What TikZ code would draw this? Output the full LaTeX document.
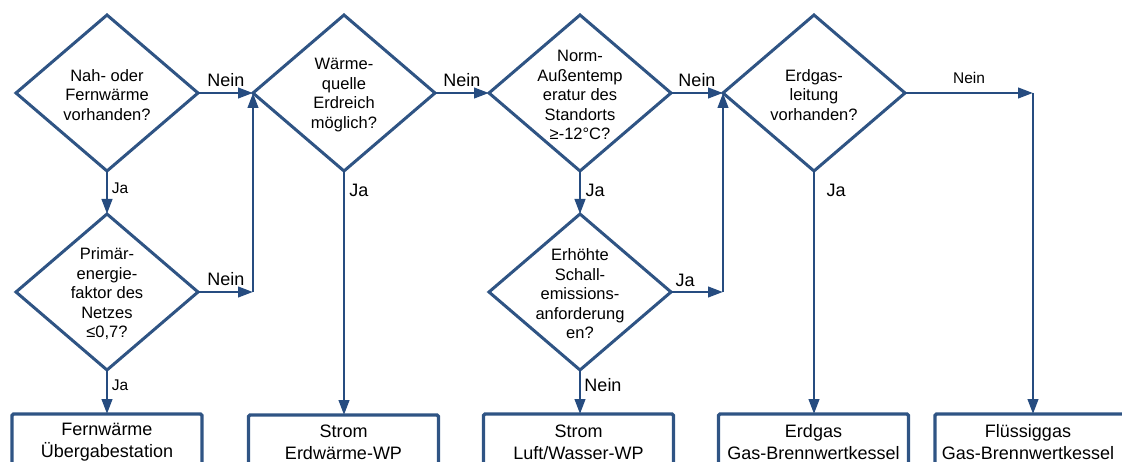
\documentclass[tikz,border=0pt]{standalone}
\usepackage{fontspec}
\setmainfont{Liberation Sans}
\usetikzlibrary{shapes.geometric,arrows.meta}
\definecolor{lineblue}{RGB}{47,84,132}
\definecolor{arrblue}{RGB}{38,76,128}
\tikzset{
  dia/.style={diamond, draw=lineblue, line width=3pt, minimum width=182pt, minimum height=156pt, inner sep=0pt, outer sep=0pt},
  qtext/.style={align=center, inner sep=0pt, font=\fontsize{16.5}{19.5}\selectfont},
  boxnode/.style={draw=lineblue, line width=3.2pt, rounded corners=1.5pt, minimum width=190pt, minimum height=80pt, inner sep=0pt, outer sep=0pt, anchor=north},
  btext/.style={align=center, inner sep=0pt, font=\fontsize{18}{22}\selectfont},
  arr/.style={draw=arrblue, line width=2.6pt, -{Triangle[length=15pt,width=10.5pt]}},
  plain/.style={draw=arrblue, line width=2.6pt},
  lbig/.style={inner sep=0pt, font=\fontsize{18}{20}\selectfont},
  lsmall/.style={inner sep=0pt, font=\fontsize{15.5}{18}\selectfont},
}
\begin{document}
\begin{tikzpicture}[x=1pt,y=-1pt]
\useasboundingbox (0,0) rectangle (1122,462);
\clip (0,0) rectangle (1122,462);
% diamonds
\node[dia] (d1) at (107,93) {};
\node[dia] (d2) at (107,292) {};
\node[dia] (d3) at (344,93) {};
\node[dia] (d4) at (580,93) {};
\node[dia] (d5) at (580,292) {};
\node[dia] (d6) at (814,93) {};
\node[qtext] (q1) at (107,95) {Nah- oder\\Fernwärme\\vorhanden?};
\node[qtext] (q2) at (107,294) {Primär-\\energie-\\faktor des\\Netzes\\≤0,7?};
\node[qtext] (q3) at (344,95) {Wärme-\\quelle\\Erdreich\\möglich?};
\node[qtext] (q4) at (580,95) {Norm-\\Außentemp\\eratur des\\Standorts\\≥-12°C?};
\node[qtext] (q5) at (580,294) {Erhöhte\\Schall-\\emissions-\\anforderung\\en?};
\node[qtext] (q6) at (814,95) {Erdgas-\\leitung\\vorhanden?};
% boxes
\node[boxnode] (b1) at (107,414) {};
\node[boxnode] (b2) at (343.5,415) {};
\node[boxnode] (b3) at (578.5,414) {};
\node[boxnode] (b4) at (813.5,414) {};
\node[boxnode] (b5) at (1030,414) {};
\node[btext] (t1) at (107,442) {Fernwärme\\Übergabestation};
\node[btext] (t2) at (343.5,442) {Strom\\Erdwärme-WP};
\node[btext] (t3) at (578.5,442) {Strom\\Luft/Wasser-WP};
\node[btext] (t4) at (813.5,442) {Erdgas\\Gas-Brennwertkessel};
\node[btext] (t5) at (1028,442) {Flüssiggas\\Gas-Brennwertkessel};
% junctions
\coordinate (j2) at (d2.east -| d3.west);
\coordinate (j3) at (d5.east -| d6.west);
\coordinate (j4) at (1033,93);
% connectors
\draw[arr] (d1.south) -- (d2.north);
\draw[arr] (d2.south) -- (b1.north);
\draw[arr] (d1.east) -- (d3.west);
\draw[arr] (d2.east) -- (j2);
\draw[arr] (j2) -- (d3.west);
\draw[arr] (d3.south) -- (d3.south |- b2.north);
\draw[arr] (d3.east) -- (d4.west);
\draw[arr] (d4.south) -- (d5.north);
\draw[arr] (d5.south) -- (d5.south |- b3.north);
\draw[arr] (d5.east) -- (j3);
\draw[arr] (j3) -- (d6.west);
\draw[arr] (d4.east) -- (d6.west);
\draw[arr] (d6.south) -- (d6.south |- b4.north);
\draw[arr] (d6.east) -- (j4);
\draw[arr] (j4) -- (j4 |- b5.north);
% labels
\node[lsmall] (l1) at (120,188) {Ja};
\node[lsmall] (l2) at (120,385) {Ja};
\node[lbig] (l3) at (226,80) {Nein};
\node[lbig] (l4) at (226,279) {Nein};
\node[lbig] (l5) at (359,190) {Ja};
\node[lbig] (l6) at (462,80) {Nein};
\node[lbig] (l7) at (595,190) {Ja};
\node[lbig] (l8) at (603,385) {Nein};
\node[lbig] (l9) at (697,80) {Nein};
\node[lbig] (l10) at (685,280) {Ja};
\node[lbig] (l11) at (836,190) {Ja};
\node[lsmall] (l12) at (969,78) {Nein};
\end{tikzpicture}
\end{document}
